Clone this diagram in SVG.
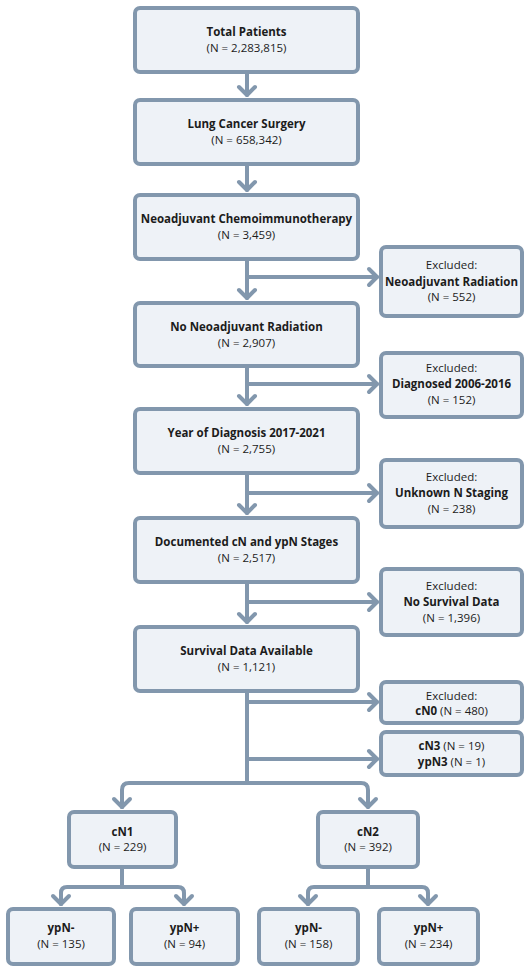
<svg xmlns="http://www.w3.org/2000/svg" width="531" height="974" viewBox="0 0 531 974">
<style>
.box{fill:#eef2f7;stroke:#8297ad;stroke-width:4}
.ln{fill:none;stroke:#8297ad;stroke-width:4;stroke-linecap:round;stroke-linejoin:round}
text{font-family:"Open Sans","Liberation Sans",sans-serif;font-size:11.5px;fill:#1c1c1c;text-anchor:middle}
.b{font-weight:bold}
</style>
<defs>
<marker id="ah" markerUnits="userSpaceOnUse" markerWidth="24" markerHeight="24" viewBox="-12 -12 24 24" refX="0" refY="0" orient="auto" overflow="visible">
<path d="M-8,-8 L0,0 L-8,8" fill="none" stroke="#8297ad" stroke-width="4" stroke-linecap="round" stroke-linejoin="round"/>
</marker>
</defs>
<rect width="531" height="974" fill="#ffffff"/>
<g id="connectors">
<path class="ln" d="M247,74 V95" marker-end="url(#ah)"/>
<path class="ln" d="M247,166 V190" marker-end="url(#ah)"/>
<path class="ln" d="M247,261 V298" marker-end="url(#ah)"/>
<path class="ln" d="M247,277 H377" marker-end="url(#ah)"/>
<path class="ln" d="M247,368 V404" marker-end="url(#ah)"/>
<path class="ln" d="M247,384 H377" marker-end="url(#ah)"/>
<path class="ln" d="M247,475 V513" marker-end="url(#ah)"/>
<path class="ln" d="M247,493 H377" marker-end="url(#ah)"/>
<path class="ln" d="M247,584 V622" marker-end="url(#ah)"/>
<path class="ln" d="M247,602 H377" marker-end="url(#ah)"/>
<path class="ln" d="M247,693 V783"/>
<path class="ln" d="M247,702 H377" marker-end="url(#ah)"/>
<path class="ln" d="M247,759 H377" marker-end="url(#ah)"/>
<path class="ln" d="M122,807 V790 Q122,783 129,783 H361 Q368,783 368,790 V807" marker-end="url(#ah)"/>
<path class="ln" d="M122,795 V807" marker-end="url(#ah)"/>
<path class="ln" d="M122,869 V887"/>
<path class="ln" d="M61,904 V893 Q61,887 67,887 H178 Q184,887 184,893 V904" marker-end="url(#ah)"/>
<path class="ln" d="M61,893 V904" marker-end="url(#ah)"/>
<path class="ln" d="M368,869 V887"/>
<path class="ln" d="M308,904 V893 Q308,887 314,887 H422 Q428,887 428,893 V904" marker-end="url(#ah)"/>
<path class="ln" d="M308,893 V904" marker-end="url(#ah)"/>
</g>
<g id="n1"><rect class="box" x="135" y="8" width="223" height="64" rx="5"/><text x="246.5" y="36" class="b">Total Patients</text><text x="246.5" y="52">(N = 2,283,815)</text></g>
<g id="n2"><rect class="box" x="135" y="100" width="223" height="64" rx="5"/><text x="246.5" y="128" class="b">Lung Cancer Surgery</text><text x="246.5" y="144">(N = 658,342)</text></g>
<g id="n3"><rect class="box" x="135" y="195" width="223" height="64" rx="5"/><text x="246.5" y="223" class="b">Neoadjuvant Chemoimmunotherapy</text><text x="246.5" y="239">(N = 3,459)</text></g>
<g id="n4"><rect class="box" x="135" y="303" width="223" height="63" rx="5"/><text x="246.5" y="330.5" class="b">No Neoadjuvant Radiation</text><text x="246.5" y="346.5">(N = 2,907)</text></g>
<g id="n5"><rect class="box" x="135" y="409" width="223" height="64" rx="5"/><text x="246.5" y="437" class="b">Year of Diagnosis 2017-2021</text><text x="246.5" y="453">(N = 2,755)</text></g>
<g id="n6"><rect class="box" x="135" y="518" width="223" height="64" rx="5"/><text x="246.5" y="546" class="b">Documented cN and ypN Stages</text><text x="246.5" y="562">(N = 2,517)</text></g>
<g id="n7"><rect class="box" x="135" y="627" width="223" height="64" rx="5"/><text x="246.5" y="655" class="b">Survival Data Available</text><text x="246.5" y="671">(N = 1,121)</text></g>
<g id="e1"><rect class="box" x="381" y="247" width="141" height="69" rx="5"/><text x="451.5" y="269">Excluded:</text><text x="451.5" y="286" class="b">Neoadjuvant Radiation</text><text x="451.5" y="301">(N = 552)</text></g>
<g id="e2"><rect class="box" x="381" y="353" width="141" height="64" rx="5"/><text x="451.5" y="372">Excluded:</text><text x="451.5" y="388" class="b">Diagnosed 2006-2016</text><text x="451.5" y="404">(N = 152)</text></g>
<g id="e3"><rect class="box" x="381" y="460" width="141" height="67" rx="5"/><text x="451.5" y="481">Excluded:</text><text x="451.5" y="497" class="b">Unknown N Staging</text><text x="451.5" y="513">(N = 238)</text></g>
<g id="e4"><rect class="box" x="381" y="569" width="141" height="66" rx="5"/><text x="451.5" y="590">Excluded:</text><text x="451.5" y="606" class="b">No Survival Data</text><text x="451.5" y="622">(N = 1,396)</text></g>
<g id="e5"><rect class="box" x="381" y="682" width="141" height="41" rx="5"/><text x="451.5" y="699.5">Excluded:</text><text x="451.5" y="715"><tspan class="b">cN0</tspan> (N = 480)</text></g>
<g id="e6"><rect class="box" x="381" y="732" width="141" height="43" rx="5"/><text x="451.5" y="750"><tspan class="b">cN3</tspan> (N = 19)</text><text x="451.5" y="766"><tspan class="b">ypN3</tspan> (N = 1)</text></g>
<g id="c1"><rect class="box" x="69" y="812" width="107" height="55" rx="5"/><text x="122.5" y="836" class="b">cN1</text><text x="122.5" y="851">(N = 229)</text></g>
<g id="c2"><rect class="box" x="318" y="812" width="100" height="55" rx="5"/><text x="368" y="836" class="b">cN2</text><text x="368" y="851">(N = 392)</text></g>
<g id="l1"><rect class="box" x="8" y="909" width="106" height="55" rx="5"/><text x="61" y="932" class="b">ypN-</text><text x="61" y="948">(N = 135)</text></g>
<g id="l2"><rect class="box" x="131" y="909" width="107" height="55" rx="5"/><text x="184.5" y="932" class="b">ypN+</text><text x="184.5" y="948">(N = 94)</text></g>
<g id="l3"><rect class="box" x="259" y="909" width="99" height="55" rx="5"/><text x="308.5" y="932" class="b">ypN-</text><text x="308.5" y="948">(N = 158)</text></g>
<g id="l4"><rect class="box" x="379" y="909" width="99" height="55" rx="5"/><text x="428.5" y="932" class="b">ypN+</text><text x="428.5" y="948">(N = 234)</text></g>
</svg>
